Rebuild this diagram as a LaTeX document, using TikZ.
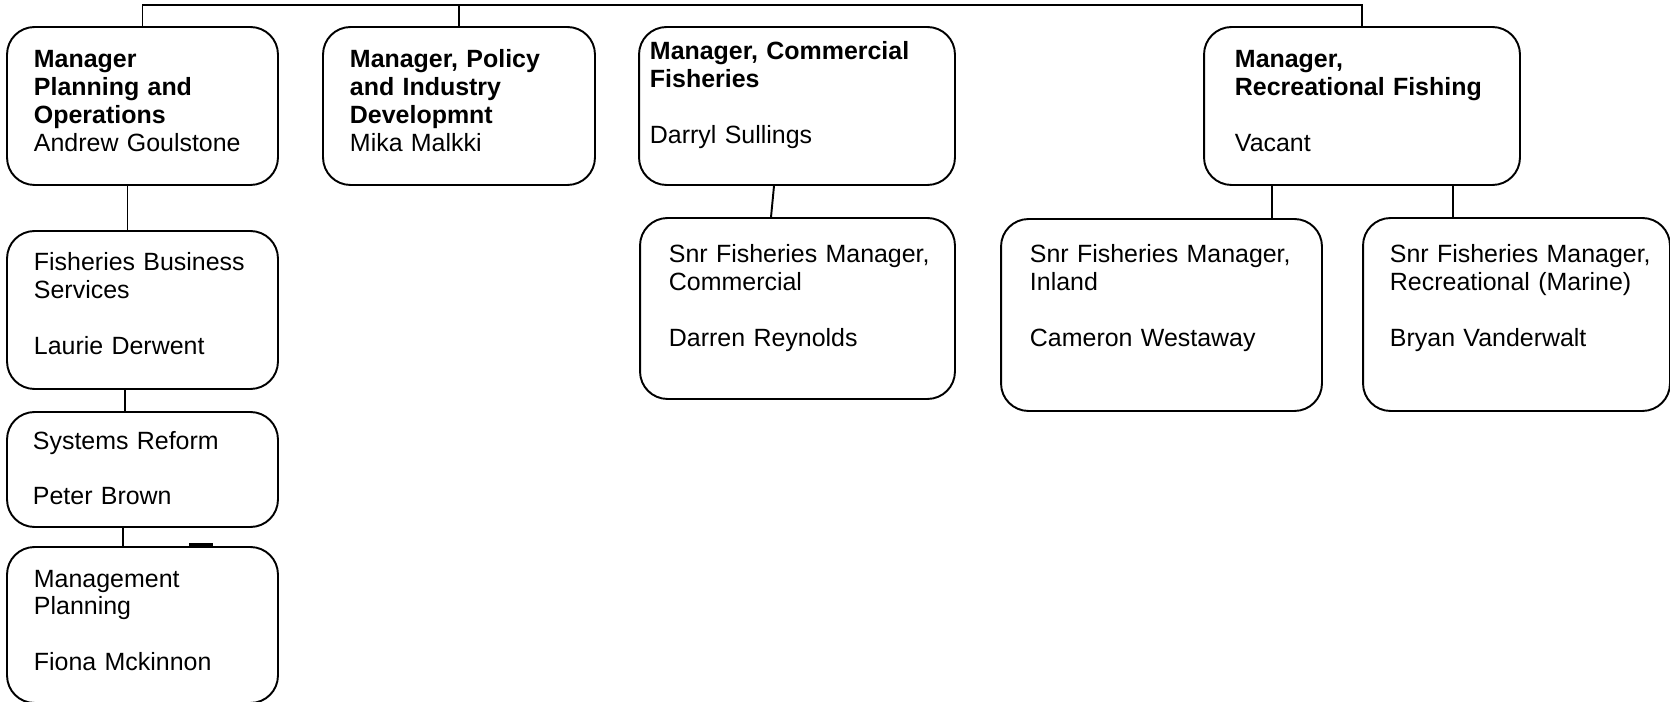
\documentclass[tikz,border=0pt]{standalone}
\usepackage{fontspec}
\setmainfont{Liberation Sans}
\usetikzlibrary{positioning}

\begin{document}
\begin{tikzpicture}[x=0.02cm, y=-0.02cm, line width=1.1pt,
	post/.style={draw, rounded corners=0.55cm, inner sep=0pt},
	txt/.style={anchor=base west, inner sep=0pt, text width=6cm, align=left,
		font=\fontsize{14.2}{15.9}\selectfont}]
				\useasboundingbox (0,0) rectangle (1670,702);
				
				% managers
				\node [post, minimum width=5.42cm, minimum height=3.16cm] (planops) at (142.5,106) {};
				\node [post, minimum width=5.44cm, minimum height=3.16cm] (policy) at (459,106) {};
				\node [post, minimum width=6.32cm, minimum height=3.16cm] (commfish) at (797,106) {};
				\node [post, minimum width=6.32cm, minimum height=3.16cm] (recfish) at (1362,106) {};
				
				% planning and operations
				\node [post, minimum width=5.42cm, minimum height=3.16cm] (business) at (142.5,310) {};
				\node [post, minimum width=5.42cm, minimum height=2.30cm] (systems) at (142.5,469.5) {};
				\node [post, minimum width=5.42cm, minimum height=3.12cm] (mgmtplan) at (142.5,625) {};
				
				% senior fisheries managers
				\node [post, minimum width=6.30cm, minimum height=3.62cm] (snrcomm) at (797.5,308.5) {};
				\node [post, minimum width=6.42cm, minimum height=3.84cm] (inland) at (1161.5,315) {};
				\node [post, minimum width=6.14cm, minimum height=3.86cm] (marine) at (1516.5,314.5) {};
				
				% % % % % % % % % % % % % % % % % % % % % % % % % %
				
				\node [txt] (planops-t) at (33,68) {\textbf{Manager\\ Planning and\\ Operations}\\ Andrew Goulstone};
				\node [txt] (policy-t) at (349,68) {\textbf{Manager, Policy\\ and Industry\\ Developmnt}\\ Mika Malkki};
				\node [txt] (commfish-t) at (649,60) {\textbf{Manager, Commercial\\ Fisheries}\\[\baselineskip] Darryl Sullings};
				\node [txt] (recfish-t) at (1234,68) {\textbf{Manager,\\ Recreational Fishing}\\[\baselineskip] Vacant};
				
				\node [txt] (business-t) at (33,271) {Fisheries Business\\ Services\\[\baselineskip] Laurie Derwent};
				\node [txt] (systems-t) at (32,449) {Systems Reform\\[\baselineskip] Peter Brown};
				\node [txt] (mgmtplan-t) at (33,587) {Management\\ Planning\\[\baselineskip] Fiona Mckinnon};
				
				\node [txt] (snrcomm-t) at (668,263) {Snr Fisheries Manager,\\ Commercial\\[\baselineskip] Darren Reynolds};
				\node [txt] (inland-t) at (1029,263) {Snr Fisheries Manager,\\ Inland\\[\baselineskip] Cameron Westaway};
				\node [txt] (marine-t) at (1389,263) {Snr Fisheries Manager,\\ Recreational (Marine)\\[\baselineskip] Bryan Vanderwalt};
				
				% lines
				\coordinate (top) at (0,5);
				\draw (planops.north) |- (recfish.north |- top) -- (recfish.north);
				\draw (policy.north) -- (policy.north |- top);
				
				\draw ([xshift=-0.3cm]planops.south) -- ([xshift=-0.3cm]business.north);
				\draw ([xshift=-0.35cm]business.south) -- ([xshift=-0.35cm]systems.north);
				\draw ([xshift=-0.39cm]systems.south) -- ([xshift=-0.39cm]mgmtplan.north);
				\draw ([xshift=-0.46cm]commfish.south) -- ([xshift=-0.53cm]snrcomm.north);
				\draw ([xshift=-1.8cm]recfish.south) -- ([xshift=-1.8cm]recfish.south |- inland.north);
				\draw ([xshift=1.82cm]recfish.south) -- ([xshift=1.82cm]recfish.south |- marine.north);
				
				\fill (189,543) rectangle (213,547);
				\end{tikzpicture}
\end{document}
